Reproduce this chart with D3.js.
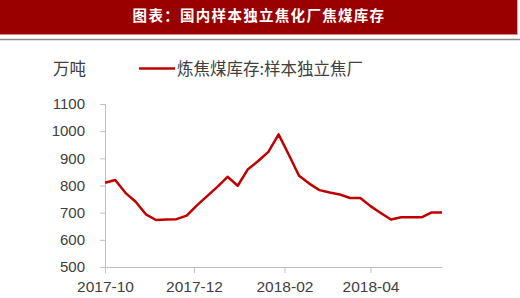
<!DOCTYPE html>
<html>
<head>
<meta charset="utf-8">
<script src="https://cdn.jsdelivr.net/npm/d3@7"></script>
<style>
    body { margin: 0; background: #fff; }
    svg { display: block; }
</style>
</head>
<body>
<script>

// weekly coking coal inventory, independent coking plants (万吨)
const startDate = "2017-10-13";
const stockValues = [810, 820, 773, 740, 694, 673, 675, 676, 689, 727, 761, 795, 832, 799, 860, 890,
    924, 988, 913, 836, 807, 783, 774, 767, 754, 754, 724, 699, 675, 683, 683, 683, 701, 701];
const yTicks = [500, 600, 700, 800, 900, 1000, 1100];
const xTickMonths = [0, 2, 4, 6]; // months after start, labelled yyyy-mm

const title = "图表：国内样本独立焦化厂焦煤库存";
const unitLabel = "万吨";
const seriesName = "炼焦煤库存:样本独立焦厂";

const width = 520, height = 298;
const margin = { top: 104, right: 78, bottom: 31, left: 105 };
const red = "#c00000";

const parse = d3.timeParse("%Y-%m-%d");
const t0 = parse(startDate);
const data = stockValues.map((v, i) => ({ date: d3.timeDay.offset(t0, i * 7), value: v }));

const svg = d3.select("body").append("svg")
    .attr("width", width)
    .attr("height", height);

// title band
svg.append("rect").attr("x", 0).attr("y", 0).attr("width", 518).attr("height", 34).attr("fill", "#990000");
svg.append("line").attr("x1", 0).attr("x2", 518).attr("y1", 34.5).attr("y2", 34.5).attr("stroke", "#e08080");
svg.append("line").attr("x1", 517.5).attr("x2", 517.5).attr("y1", 0).attr("y2", 35).attr("stroke", "#e8a0a0");
svg.append("line").attr("x1", 0).attr("x2", width).attr("y1", 39.5).attr("y2", 39.5)
    .attr("stroke", "#8a8a8a").attr("stroke-width", 1.5);
svg.append("text")
    .attr("x", 259).attr("y", 21)
    .attr("text-anchor", "middle")
    .attr("fill", "#fff")
    .attr("font-family", "Noto Sans CJK SC")
    .attr("font-weight", "bold")
    .attr("font-size", 14.5)
    .attr("letter-spacing", 1.3)
    .text(title);

const x = d3.scaleTime()
    .domain(d3.extent(data, d => d.date))
    .range([margin.left, width - margin.right]);

const y = d3.scaleLinear()
    .domain([500, 1100])
    .range([height - margin.bottom, margin.top]);

const axisColor = "#bfbfbf";
const textColor = "#404040";

// y axis
const yAxis = svg.append("g")
    .attr("transform", "translate(" + margin.left + ",0)")
    .call(d3.axisLeft(y).tickValues(yTicks).tickSize(5).tickPadding(15).tickFormat(d3.format("d")));
yAxis.select(".domain").attr("stroke", axisColor);
yAxis.selectAll(".tick line").attr("stroke", axisColor);
yAxis.selectAll("text")
    .attr("fill", textColor)
    .attr("font-family", "Liberation Sans")
    .attr("font-size", 15);

// x axis
const xTickDates = xTickMonths.map(m => d3.timeMonth.offset(t0, m)).filter(d => d <= x.domain()[1]);
const xAxis = svg.append("g")
    .attr("transform", "translate(0," + (height - margin.bottom) + ")")
    .call(d3.axisBottom(x).tickValues(xTickDates).tickSize(6).tickSizeOuter(0).tickPadding(8)
        .tickFormat(d3.timeFormat("%Y-%m")));
xAxis.select(".domain").attr("stroke", axisColor);
xAxis.selectAll(".tick line").attr("stroke", axisColor);
xAxis.selectAll("text")
    .attr("fill", textColor)
    .attr("font-family", "Liberation Sans")
    .attr("font-size", 15.5);

// the line
const line = d3.line()
    .x(d => x(d.date))
    .y(d => y(d.value));

svg.append("path")
    .datum(data)
    .attr("fill", "none")
    .attr("stroke", red)
    .attr("stroke-width", 2.5)
    .attr("stroke-linejoin", "round")
    .attr("d", line);

// unit + legend
svg.append("text")
    .attr("x", 53).attr("y", 75)
    .attr("fill", textColor)
    .attr("font-family", "Noto Sans CJK SC")
    .attr("font-size", 16.5)
    .text(unitLabel);

svg.append("line")
    .attr("x1", 139).attr("x2", 175)
    .attr("y1", 68.5).attr("y2", 68.5)
    .attr("stroke", red).attr("stroke-width", 2.5);
svg.append("text")
    .attr("x", 177).attr("y", 75)
    .attr("fill", textColor)
    .attr("font-family", "Noto Sans CJK SC")
    .attr("font-size", 16.5)
    .text(seriesName);

</script>
</body>
</html>
